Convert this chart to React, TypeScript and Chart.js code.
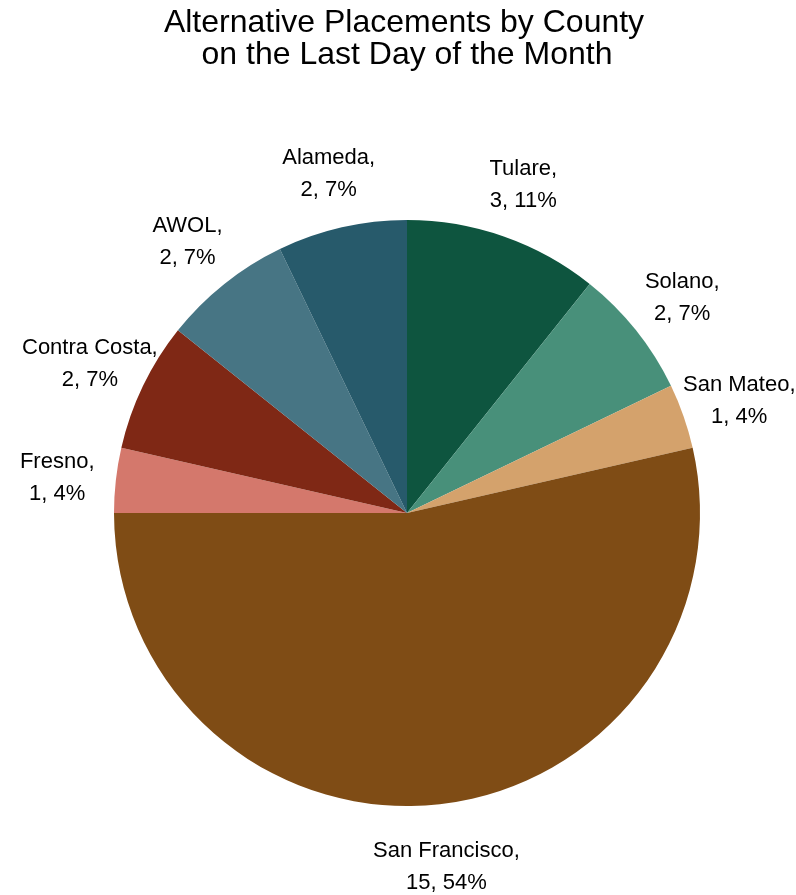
import React, { useEffect, useRef } from "react";
import { Chart, registerables } from "chart.js";

Chart.register(...registerables);

const counties = ["Tulare", "Solano", "San Mateo", "San Francisco", "Fresno", "Contra Costa", "AWOL", "Alameda"];
const counts = [3, 2, 1, 15, 1, 2, 2, 2];
const colors = ["#0E553F", "#48907A", "#D4A26C", "#7F4C15", "#D4786C", "#7F2815", "#477584", "#275A6B"];
const titleLines = ["Alternative Placements by County", "on the Last Day of the Month"];

const FONT = "'Liberation Sans', Arial, sans-serif";

const labelPlugin = {
  id: "outerLabels",
  afterDraw(chart: any) {
    const ctx = chart.ctx;
    const meta = chart.getDatasetMeta(0);
    const data = chart.data.datasets[0].data as number[];
    const total = data.reduce((a: number, b: number) => a + b, 0);
    ctx.save();
    ctx.fillStyle = "#000";
    ctx.textAlign = "center";
    ctx.textBaseline = "alphabetic";
    // title
    ctx.font = `32px ${FONT}`;
    titleLines.forEach((t, i) => ctx.fillText(t, 404 + i * 3, 32 + i * 32));
    ctx.font = `22px ${FONT}`;
    meta.data.forEach((arc: any, i: number) => {
      const p = arc.getProps(["x", "y", "startAngle", "endAngle", "outerRadius"], true);
      const mid = (p.startAngle + p.endAngle) / 2;
      const r = p.outerRadius + 59;
      const cx = p.x + Math.cos(mid) * r;
      const cy = p.y + Math.sin(mid) * r;
      const pct = Math.round((data[i] / total) * 100);
      ctx.fillText(`${chart.data.labels[i]},`, cx, cy - 6);
      ctx.fillText(`${data[i]}, ${pct}%`, cx, cy + 26);
    });
    ctx.restore();
  },
};

export default function App() {
  const ref = useRef<HTMLCanvasElement>(null);
  useEffect(() => {
    if (!ref.current) return;
    const chart = new Chart(ref.current, {
      type: "pie",
      data: {
        labels: counties,
        datasets: [
          {
            data: counts,
            backgroundColor: colors,
            borderWidth: 0,
          },
        ],
      },
      options: {
        responsive: false,
        animation: false,
        layout: { padding: { left: 114, right: 96, top: 220, bottom: 89 } },
        plugins: {
          legend: { display: false },
          title: { display: false },
          tooltip: { enabled: false },
        },
      },
      plugins: [labelPlugin],
    });
    return () => chart.destroy();
  }, []);
  return (
    <div style={{ position: "absolute", left: 0, top: 0, width: 796, height: 895, background: "#fff" }}>
      <canvas ref={ref} width={796} height={895} style={{ width: 796, height: 895 }} />
    </div>
  );
}
